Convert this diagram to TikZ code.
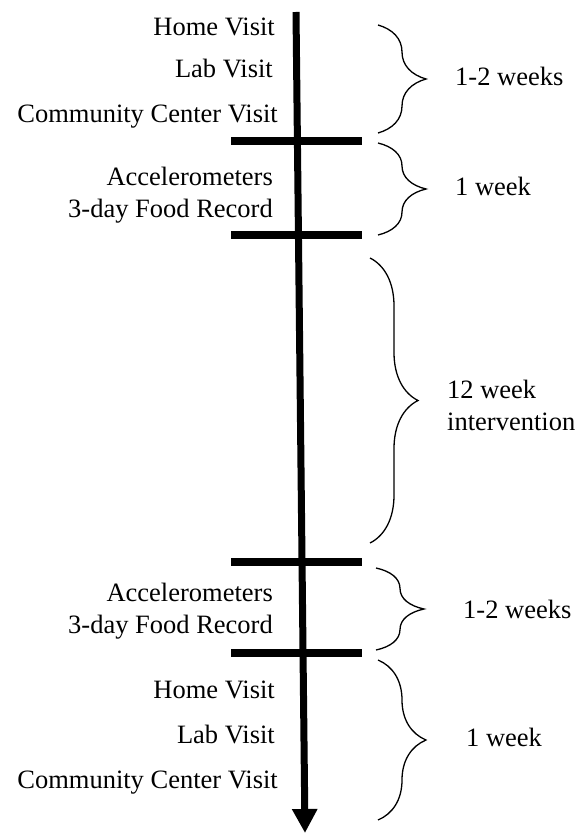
\documentclass[tikz,border=0pt]{standalone}
\usepackage{fontspec}
\setmainfont{Liberation Serif}
\usetikzlibrary{arrows.meta,decorations.pathreplacing}

\tikzset{
	txt/.style={inner sep=0pt, font=\fontsize{26.5}{32}\selectfont},
	one/.style={txt, text height=18pt, text depth=6pt},
	act/.style={anchor=east, align=right},
	dur/.style={anchor=west, align=left},
	stopbar/.style={line width=8pt},
	brc/.style={decorate, decoration={brace, amplitude=48pt}, line width=1.3pt},
}

\begin{document}
\begin{tikzpicture}[x=1pt, y=-1pt]

	    \useasboundingbox (0,0) rectangle (579,834);

	    \coordinate (top) at (296,12);
	    \coordinate (tip) at (305,833);
	    \draw[line width=7pt, -{Triangle[length=24pt, width=24pt]}] (top) -- (tip);

	    \node[one, act] (home1) at (275,30) {Home Visit};
	    \node[one, act] (lab1) at (273,72) {Lab Visit};
	    \node[one, act] (comm1) at (278,117) {Community Center Visit};
	    \node[txt, act] (acc1) at (273,195) {Accelerometers\\3-day Food Record};

	    \node[txt, act] (acc2) at (273,611) {Accelerometers\\3-day Food Record};
	    \node[one, act] (home2) at (275,692) {Home Visit};
	    \node[one, act] (lab2) at (275,737) {Lab Visit};
	    \node[one, act] (comm2) at (278,782) {Community Center Visit};

	    \coordinate (b1l) at (231,141);
	    \coordinate (b1r) at (362,141);
	    \coordinate (b2l) at (231,235);
	    \coordinate (b2r) at (362,235);
	    \coordinate (b3l) at (231,562);
	    \coordinate (b3r) at (362,562);
	    \coordinate (b4l) at (231,653);
	    \coordinate (b4r) at (362,653);
	    \draw[stopbar] (b1l) -- (b1r);
	    \draw[stopbar] (b2l) -- (b2r);
	    \draw[stopbar] (b3l) -- (b3r);
	    \draw[stopbar] (b4l) -- (b4r);

	    \coordinate (s1a) at (378,25);
	    \coordinate (s1b) at (378,133);
	    \coordinate (s2a) at (378,143);
	    \coordinate (s2b) at (378,235);
	    \coordinate (s3a) at (370,258);
	    \coordinate (s3b) at (370,543);
	    \coordinate (s4a) at (376,568);
	    \coordinate (s4b) at (376,650);
	    \coordinate (s5a) at (378,660);
	    \coordinate (s5b) at (378,820);
	    \draw[brc] (s1a) -- (s1b);
	    \draw[brc] (s2a) -- (s2b);
	    \draw[brc] (s3a) -- (s3b);
	    \draw[brc] (s4a) -- (s4b);
	    \draw[brc] (s5a) -- (s5b);

	    \node[one, dur] (w1) at (455,80) {1-2 weeks};
	    \node[one, dur] (w2) at (455,190) {1 week};
	    \node[txt, dur] (w3) at (447,405) {12 week\\intervention};
	    \node[one, dur] (w4) at (463,612) {1-2 weeks};
	    \node[one, dur] (w5) at (466,740) {1 week};

\end{tikzpicture}
\end{document}
